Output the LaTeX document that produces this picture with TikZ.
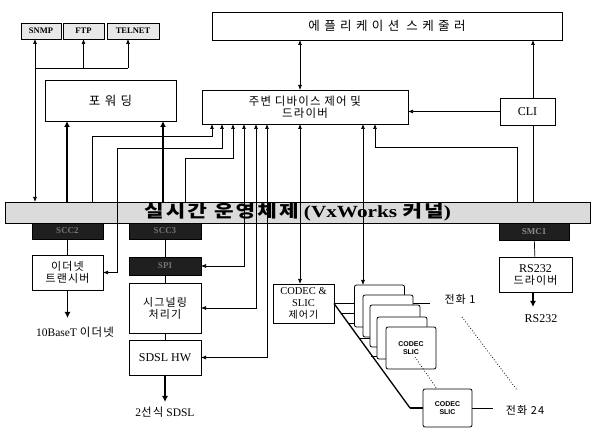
\documentclass[tikz,border=0pt]{standalone}
\usepackage{fontspec}
\setmainfont{Liberation Serif}
\newfontfamily\kr{Noto Sans CJK KR}[LetterSpace=10]
\newfontfamily\krw{Noto Sans CJK KR}[LetterSpace=35]
\newfontfamily\sansb{Liberation Sans}
\usetikzlibrary{arrows.meta}
\tikzset{
  box/.style={draw, line width=0.8pt, fill=white, inner sep=0pt, outer sep=0pt, align=center},
  proto/.style={box, fill=gray!18, font=\fontsize{8.5}{9}\selectfont\bfseries},
  blk/.style={draw, line width=0.6pt, fill=black!88, inner sep=0pt, outer sep=0pt, text=black!55, font=\fontsize{9}{10}\selectfont\bfseries},
  card/.style={box, rounded corners=2pt, minimum width=50pt, minimum height=42pt, font=\sansb\fontsize{7}{8}\selectfont\bfseries},
  lbl/.style={inner sep=0pt, align=center},
  ln/.style={line width=0.7pt},
  arr/.style={ln, -{Latex[length=5pt,width=4pt]}},
  darr/.style={ln, {Latex[length=5pt,width=4pt]}-{Latex[length=5pt,width=4pt]}},
  tarr/.style={line width=1.4pt, -{Latex[length=6pt,width=6pt]}},
}
\begin{document}
\begin{tikzpicture}[x=1pt,y=-1pt]
\useasboundingbox[fill=white] (0,0) rectangle (592,430);

% top row
\node[proto, minimum width=40pt, minimum height=16pt] (snmp) at (41,31) {SNMP};
\node[proto, minimum width=41pt, minimum height=16pt] (ftp) at (83.5,31) {FTP};
\node[proto, minimum width=52pt, minimum height=16pt] (telnet) at (133,31) {TELNET};
\node[box, minimum width=350pt, minimum height=28pt] (sched) at (387,26) {\krw\fontsize{12.5}{14}\selectfont 에플리케이션 스케줄러};
\node[box, minimum width=131pt, minimum height=41pt] (fwd) at (110.5,100.5) {\krw\fontsize{12.5}{14}\selectfont 포워딩};
\node[box, minimum width=206pt, minimum height=34pt] (ped) at (305,107) {\kr\fontsize{11.5}{15}\selectfont 주변 디바이스 제어 및\\ \kr\fontsize{11.5}{15}\selectfont 드라이버};
\node[box, minimum width=55pt, minimum height=27pt, font=\fontsize{12}{14}\selectfont] (cli) at (527.5,111.5) {CLI};

% RTOS bar
\node[box, fill=gray!28, line width=0.5pt, minimum width=585pt, minimum height=21pt] (bar) at (297.5,212.5)
  {\scalebox{1.25}[1]{\fontsize{17}{18}\selectfont\bfseries{\kr 실시간 운영체제} (VxWorks {\kr 커널})}};

% blocks below the bar
\node[blk, minimum width=71pt, minimum height=16pt] (scc2) at (67.5,231) {SCC2};
\node[blk, minimum width=72pt, minimum height=16pt] (scc3) at (165,231) {SCC3};
\node[blk, minimum width=72pt, minimum height=18pt] (spi) at (165,266) {SPI};
\node[blk, minimum width=70pt, minimum height=17pt, text=black!45] (smc) at (534,231.5) {SMC1};
\node[box, minimum width=71pt, minimum height=35pt] (trans) at (67.5,272.5) {\kr\fontsize{11}{14}\selectfont 이더넷\\ \kr\fontsize{11}{14}\selectfont 트랜시버};
\node[box, minimum width=72pt, minimum height=50pt] (sig) at (165,308) {\kr\fontsize{11}{15}\selectfont 시그널링\\ \kr\fontsize{11}{15}\selectfont 처리기};
\node[box, minimum width=72pt, minimum height=35pt, font=\fontsize{12}{14}\selectfont] (sdsl) at (165,357.5) {SDSL HW};
\node[box, minimum width=61pt, minimum height=39pt, font=\fontsize{10.5}{12}\selectfont] (ctrl) at (303.5,303.5) {CODEC \&\\SLIC\\{\kr\fontsize{10}{12}\selectfont 제어기}};
\node[box, minimum width=73pt, minimum height=35pt] (rs) at (535.5,274.5) {\fontsize{12}{14}\selectfont RS232\\ \kr\fontsize{11}{14}\selectfont 드라이버};

% labels
\node[lbl, font=\fontsize{11.5}{13}\selectfont] (ethl) at (75,332) {10BaseT {\kr 이더넷}};
\node[lbl, font=\fontsize{11.5}{13}\selectfont] (sdsll) at (165,412) {2{\kr 선식} SDSL};
\node[lbl, font=\fontsize{12}{13}\selectfont] (rsl) at (541,319) {RS232};
\node[lbl, font=\kr\fontsize{11}{13}\selectfont] (tel1) at (460,299) {전화 1};
\node[lbl, font=\kr\fontsize{11}{13}\selectfont] (tel24) at (525,410) {전화 24};

% top connectors
\coordinate (jL) at (35,68);
\coordinate (jR) at (128,68);
\draw[darr] (snmp.south -| jL) -- (bar.north -| jL);
\draw[ln] (jL) -- (jR);
\draw[arr] (ftp.south |- jL) -- (ftp.south);
\draw[arr] (jR) -- (telnet.south -| jR);
\draw[darr] (ped.north -| 300,0) -- (sched.south -| 300,0);
\draw[arr] (cli.north -| 533,0) -- (sched.south -| 533,0);
\draw[arr] (cli.west) -- (ped.east |- cli.west);
\draw[ln] (cli.south -| 533,0) -- (bar.north -| 533,0);

% bar to forwarding
\draw[tarr] (bar.north -| 67,0) -- (fwd.south -| 67,0);
\draw[tarr] (bar.north -| 163,0) -- (fwd.south -| 163,0);

% bar / devices to peripheral drivers
\draw[arr] (bar.north -| 92,0) -- (92,136) -| (ped.south -| 212,0);
\draw[darr] (trans.east) -| (117,148) -| (ped.south -| 222,0);
\draw[arr] (bar.north -| 185,0) -- (185,158) -| (ped.south -| 233,0);
\draw[darr] (spi.east) -| (ped.south -| 244,0);
\draw[darr] (sig.east) -| (ped.south -| 256,0);
\draw[darr] (sdsl.east) -| (ped.south -| 267,0);
\draw[darr] (ctrl.north -| 300,0) -- (ped.south -| 300,0);
\draw[arr] (bar.north -| 517,0) |- (375,147) -- (ped.south -| 375,0);

% chains below the bar
\draw[ln] (scc2) -- (trans);
\draw[ln] (scc3) -- (spi);
\draw[ln] (spi) -- (sig);
\draw[ln] (sig) -- (sdsl);
\draw[ln] (smc) -- (rs);
\coordinate (ethend) at (67.5,318);
\coordinate (sdslend) at (165,402);
\coordinate (rsend) at (533,307);
\draw[tarr] (trans.south) -- (ethend);
\draw[tarr] (sdsl.south) -- (sdslend);
\draw[tarr] (rs.south -| rsend) -- (rsend);

% line cards
\coordinate (tel1end) at (430,303);
\coordinate (diagend) at (410,408);
\draw[ln] (ctrl.east |- tel1end) -- (tel1end);
\draw[line width=1.3pt] (ctrl.east) -- (diagend);
\draw[ln] (340.8,313) -- (363,313);
\draw[ln] (347.9,323) -- (370,323);
\draw[ln] (358.6,338) -- (377,338);
\draw[ln] (371.4,356) -- (386,356);

\node[card] (c1) at (379.5,306) {};
\node[card] (c2) at (388,316) {};
\node[card] (c3) at (395,326) {};
\node[card] (c4) at (402,338) {};
\node[card] (c5) at (411,348) {CODEC\\SLIC};
\node[card, minimum width=49pt, minimum height=38pt] (c24) at (447.5,408) {CODEC\\SLIC};
\draw[line width=1.3pt] (diagend) -- (c24.west);
\coordinate (tel24end) at (493,408);
\draw[ln] (c24.east) -- (tel24end);
\draw[darr] (c1.north -| 363,0) -- (ped.south -| 363,0);

\draw[dotted, line width=0.8pt] (415,357) -- (c24.north -| 437,0);
\draw[dotted, line width=0.8pt] (462,317) -- (517,390);
\end{tikzpicture}
\end{document}
